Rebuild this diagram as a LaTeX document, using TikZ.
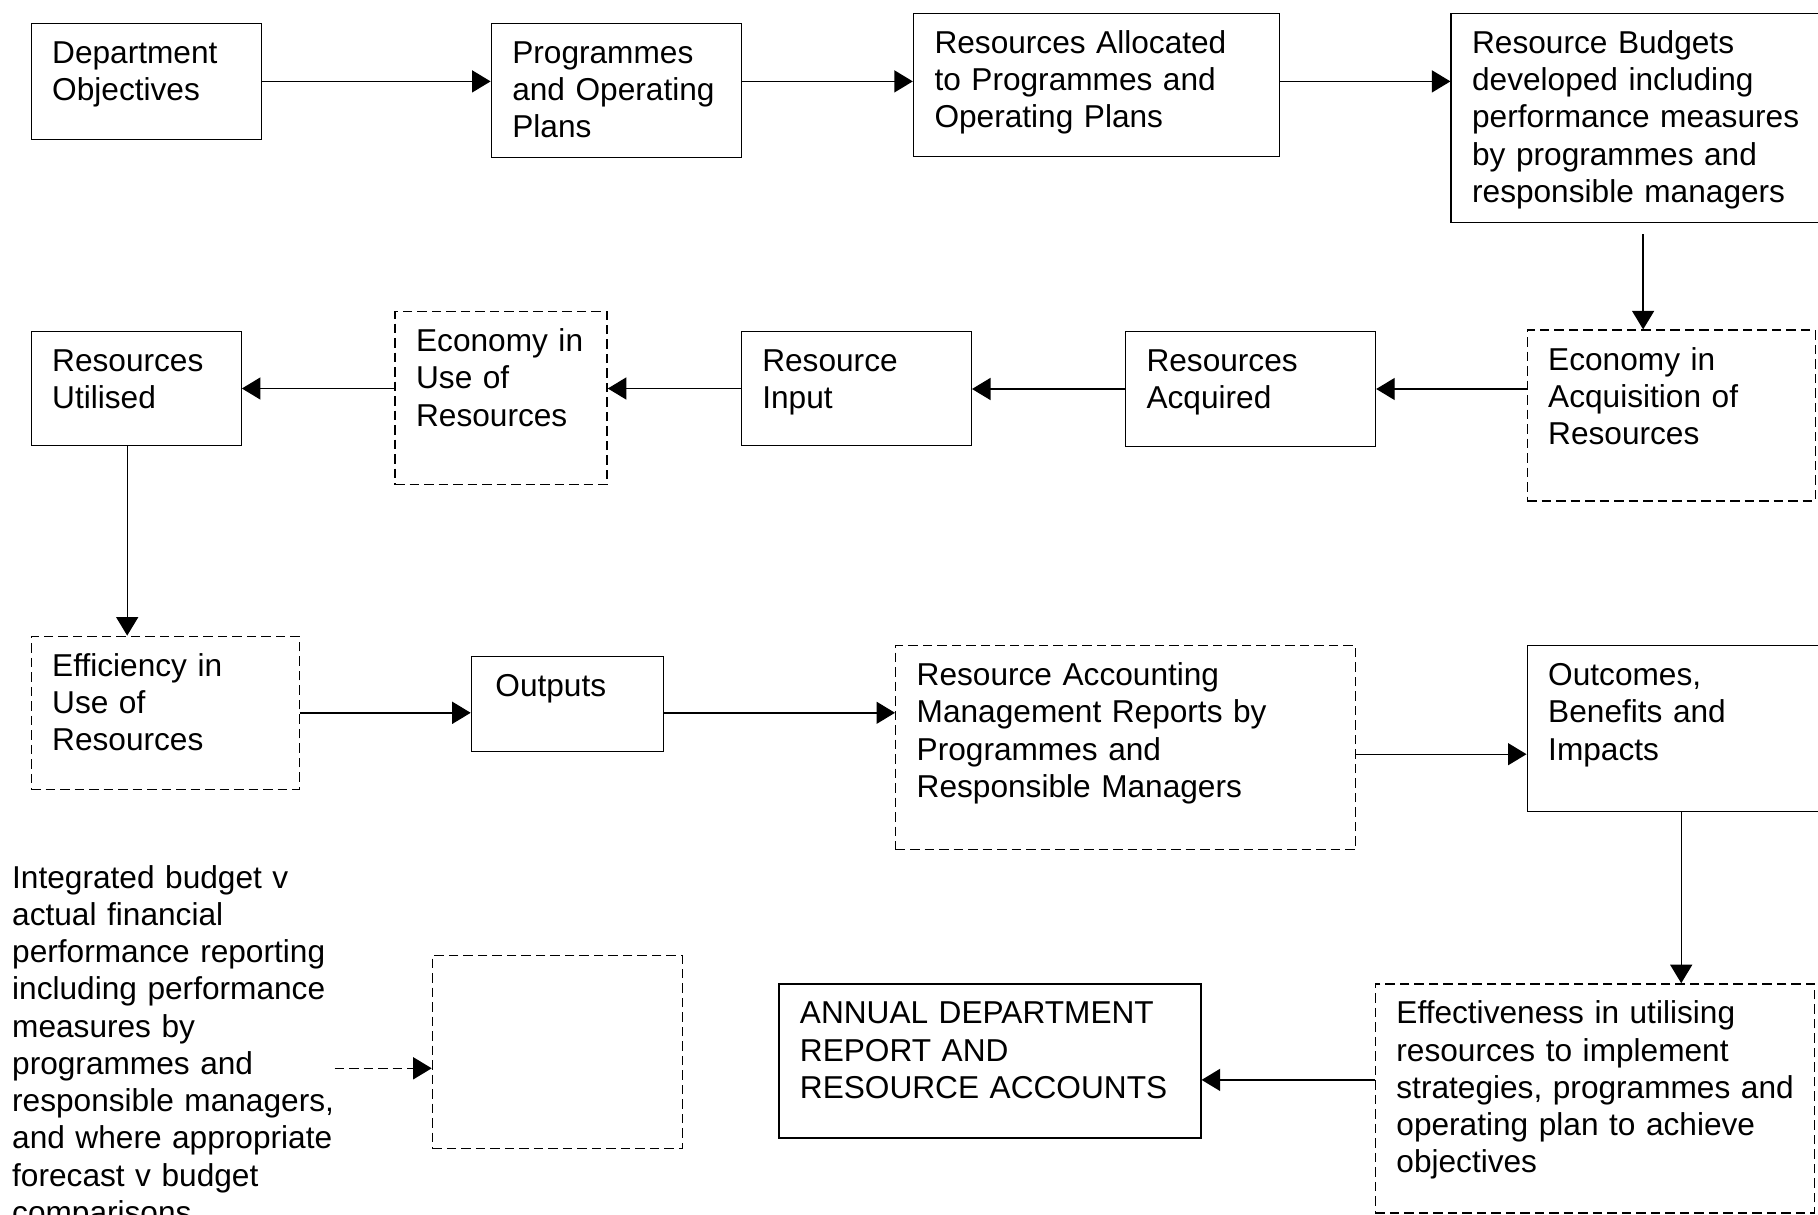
\documentclass[tikz,border=0pt]{standalone}
\usepackage{fontspec}
\setmainfont{Liberation Sans}
\usetikzlibrary{arrows.meta}

\tikzset{
  box/.style={draw, anchor=north west, align=left, inner xsep=2.1mm,
              inner ysep=1.2mm, text height=2.8mm},
  dbox/.style={box, dash pattern=on 0.95mm off 0.5mm},
  arr/.style={-{Triangle[length=1.85mm,width=2.2mm]}},
}

\begin{document}
\begin{tikzpicture}[x=0.1mm,y=-0.1mm,font=\fontsize{9}{10.6}\selectfont]
    \useasboundingbox (0,0) rectangle (1818,1215);
    % top row
    \node[box, text width=18.8mm, text depth=6.4mm] (dept) at (30.5,22.7) {Department\\Objectives};
    \node[box, text width=20.8mm, text depth=8.2mm] (prog) at (490.6,22.7) {Programmes\\and Operating\\Plans};
    \node[box, text width=32.4mm, text depth=9.1mm] (alloc) at (912.8,12.6) {Resources Allocated\\to Programmes and\\Operating Plans};
    \node[box, text width=34.2mm, text depth=15.7mm] (budgets) at (1450.4,12.6) {Resource Budgets\\developed including\\performance measures\\by programmes and\\responsible managers};
    % second row
    \node[dbox, text width=24.6mm, text depth=11.9mm] (acq) at (1526.5,329.4) {Economy in\\Acquisition of\\Resources};
    \node[box, text width=20.8mm, text depth=6.3mm] (acquired) at (1124.8,330.8) {Resources\\Acquired};
    \node[box, text width=18.8mm, text depth=6.2mm] (input) at (740.6,330.8) {Resource\\Input};
    \node[dbox, text width=17mm, text depth=12.1mm] (ecouse) at (394.4,311) {Economy in\\Use of\\Resources};
    \node[box, text width=16.8mm, text depth=6.2mm] (utilised) at (30.5,330.8) {Resources\\Utilised};
    % third row
    \node[dbox, text width=22.6mm, text depth=10.1mm] (eff) at (30.5,635.6) {Efficiency in\\Use of\\Resources};
    \node[box, text width=15mm, text depth=4.35mm] (outputs) at (470.7,655.5) {\hspace{0.3mm}Outputs};
    \node[dbox, text width=41.8mm, text depth=15.2mm] (ram) at (895,645) {Resource Accounting\\Management Reports by\\Programmes and\\Responsible Managers};
    \node[box, text width=26.6mm, text depth=11.4mm] (outcomes) at (1526.5,645) {Outcomes,\\Benefits and\\Impacts};
    % bottom row
    \node[dbox, text width=39.7mm, text depth=17.7mm] (effect) at (1374.7,983.2) {Effectiveness in utilising\\resources to implement\\\mbox{strategies, programmes and}\\operating plan to achieve\\objectives};
    \node[box, text width=38mm, text depth=10.2mm] (annual) at (778.2,983.2) {ANNUAL DEPARTMENT\\REPORT AND\\RESOURCE ACCOUNTS};
    \node[dbox, text width=20.8mm, text depth=14.1mm] (blank) at (431.7,955) {};
    \node[anchor=base west, inner sep=0pt, text width=36mm, align=left,
          font=\fontsize{9}{10.6}\selectfont] (note) at (11.5,888)
        {Integrated budget v\\actual financial\\performance reporting\\including performance\\measures by\\programmes and\\responsible managers,\\and where appropriate\\forecast v budget\\comparisons};
    % connectors
    \draw[arr] (dept.east) -- (dept.east -| prog.west);
    \draw[arr] (prog.east |- dept.east) -- (dept.east -| alloc.west);
    \draw[arr] (alloc.east |- dept.east) -- (dept.east -| budgets.west);
    \draw[arr, shorten <=1.15mm] (budgets.south) -- (budgets.south |- acq.north);
    \draw[arr] (acquired.east -| acq.west) -- (acquired.east);
    \draw[arr] (acquired.west) -- (acquired.west -| input.east);
    \draw[arr] (input.west) -- (input.west -| ecouse.east);
    \draw[arr] (utilised.east -| ecouse.west) -- (utilised.east);
    \coordinate (uts) at ([xshift=-0.9mm]utilised.south);
    \draw[arr] (uts) -- (uts |- eff.north);
    \draw[arr] (eff.east) -- (eff.east -| outputs.west);
    \draw[arr] (eff.east -| outputs.east) -- (eff.east -| ram.west);
    \coordinate (ramout) at ([yshift=-0.65mm]ram.east);
    \draw[arr] (ramout) -- (ramout -| outcomes.west);
    \draw[arr] (outcomes.south) -- (outcomes.south |- effect.north);
    \coordinate (annin) at ([yshift=-1.9mm]annual.east);
    \draw[arr] (annin -| effect.west) -- (annin);
    \coordinate (notept) at (334.7,1068.3);
    \draw[arr, dash pattern=on 0.95mm off 0.5mm] (notept) -- (notept -| blank.west);
\end{tikzpicture}
\end{document}
